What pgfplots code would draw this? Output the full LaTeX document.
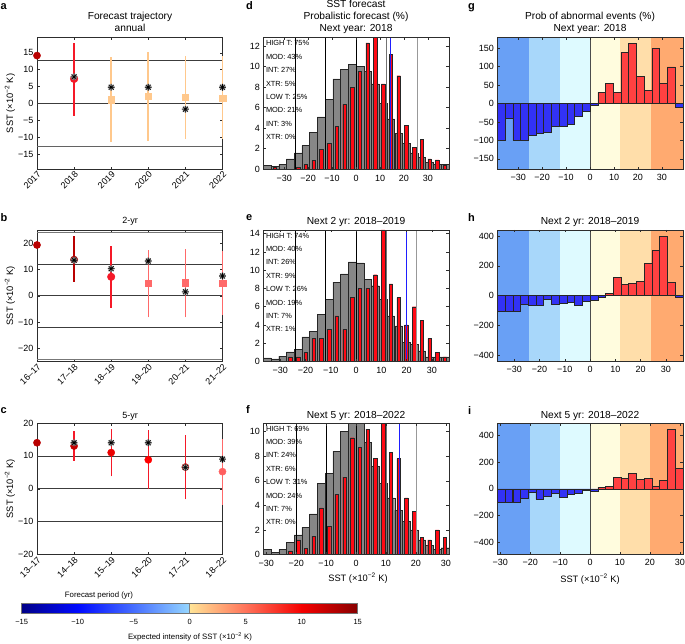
\documentclass[border=0pt]{standalone}
\usepackage{pgfplots}
\usepackage{pgfplotstable}
\pgfplotsset{compat=1.18}
\usepackage{fontspec}
\setmainfont{Liberation Sans}
\usetikzlibrary{plotmarks}

\definecolor{axgray}{RGB}{45,45,45}
\definecolor{refgray}{RGB}{60,60,60}
\definecolor{histgray}{RGB}{135,135,135}
\definecolor{hred}{RGB}{255,10,20}
\definecolor{pblue}{RGB}{50,50,245}
\definecolor{pred}{RGB}{255,65,65}
\definecolor{bandA}{RGB}{105,160,245}
\definecolor{bandB}{RGB}{168,215,250}
\definecolor{bandC}{RGB}{222,250,255}
\definecolor{bandD}{RGB}{255,252,222}
\definecolor{bandE}{RGB}{255,222,170}
\definecolor{bandF}{RGB}{255,170,112}
\definecolor{fcblue}{RGB}{30,30,255}
\definecolor{dkred}{RGB}{185,0,0}
\definecolor{mdred}{RGB}{245,25,40}
\definecolor{ltorange}{RGB}{255,200,140}
\definecolor{salmon}{RGB}{255,105,105}
\definecolor{cbA}{RGB}{0,0,135}
\definecolor{cbB}{RGB}{0,10,255}
\definecolor{cbC}{RGB}{70,110,255}
\definecolor{cbD}{RGB}{150,215,255}
\definecolor{cbE}{RGB}{255,228,150}
\definecolor{cbF}{RGB}{255,115,90}
\definecolor{cbG}{RGB}{245,0,0}
\definecolor{cbH}{RGB}{135,0,0}

% 8-arm asterisk like matlab '*'
\pgfdeclareplotmark{ast8}{%
  \pgfpathmoveto{\pgfqpoint{0pt}{\pgfplotmarksize}}%
  \pgfpathlineto{\pgfqpoint{0pt}{-\pgfplotmarksize}}%
  \pgfpathmoveto{\pgfqpoint{\pgfplotmarksize}{0pt}}%
  \pgfpathlineto{\pgfqpoint{-\pgfplotmarksize}{0pt}}%
  \pgfpathmoveto{\pgfqpoint{0.7071\pgfplotmarksize}{0.7071\pgfplotmarksize}}%
  \pgfpathlineto{\pgfqpoint{-0.7071\pgfplotmarksize}{-0.7071\pgfplotmarksize}}%
  \pgfpathmoveto{\pgfqpoint{-0.7071\pgfplotmarksize}{0.7071\pgfplotmarksize}}%
  \pgfpathlineto{\pgfqpoint{0.7071\pgfplotmarksize}{-0.7071\pgfplotmarksize}}%
  \pgfusepathqstroke}

\pgfplotsset{
  base/.style={scale only axis, width=185.5pt, height=131.5pt, anchor=south west,
    axis line style={axgray, line width=0.5pt}, tick style={axgray, line width=0.5pt},
    tick align=inside, major tick length=2.5pt,
    /pgf/number format/assume math mode=true,
    ticklabel style={font=\fontsize{9}{10}\selectfont}},
  traj/.style={base, xmin=0, xmax=5, xtick={0,...,5}, clip=false,
    xticklabel style={rotate=45, anchor=north east, inner sep=1pt}},
  hist/.style={base, axis on top, ymin=0, xtick={-30,-20,...,30},
    xticklabels={−30,−20,−10,0,10,20,30}, xticklabel style={yshift=-2pt}},
  prob/.style={base, axis on top, xtick={-30,-20,...,30},
    xticklabels={−30,−20,−10,0,10,20,30}, xticklabel style={yshift=-1.5pt}},
  gbar/.style={ybar, bar shift=0pt, fill=histgray, draw=black!85, line width=0.4pt},
  rbar/.style={ybar, bar shift=0pt, fill=hred, draw=black!85, line width=0.4pt},
  nbar/.style={ybar, bar shift=0pt, fill=pblue, draw=black!85, line width=0.5pt},
  pbar/.style={ybar, bar shift=0pt, fill=pred, draw=black!85, line width=0.5pt},
  asth/.style={only marks, mark=ast8, mark size=3.4pt, mark options={draw=black!40, line width=1.6pt}},
  ast/.style={only marks, mark=ast8, mark size=3.4pt, mark options={draw=black, line width=0.6pt}},
  eb/.style={line width=1.4pt},
}

% bin centre, climatology (g), forecast (r), prob. negative / positive
\pgfplotstableread{
x g r neg pos
-37.09 0.35 nan -100 nan
-33.86 0.30 0.18 -41 nan
-30.64 0.50 nan -100 nan
-27.41 1.00 nan -100 nan
-24.19 1.60 0.20 -87 nan
-20.96 2.30 0.45 -81 nan
-17.74 3.60 0.85 -77 nan
-14.51 5.10 1.90 -63 nan
-11.29 6.80 2.50 -63 nan
-8.06 8.80 4.20 -55 nan
-4.84 9.70 6.30 -35 nan
-1.61 10.20 8.00 -22 nan
1.61 10.00 9.50 -5 nan
4.84 9.50 12.30 nan 30
8.06 8.30 12.80 nan 54
11.29 6.40 8.30 nan 29
14.51 4.90 11.20 nan 139
17.74 3.50 9.10 nan 162
20.96 2.50 4.30 nan 73
24.19 1.60 2.10 nan 35
27.41 1.15 2.90 nan 150
30.64 0.65 1.00 nan 54
33.86 0.45 0.90 nan 99
37.09 0.45 0.40 -11 nan
}\tabD

\pgfplotstableread{
x g r neg pos
-35.17 0.40 nan -103 nan
-32.11 0.30 nan -103 nan
-29.06 0.60 nan -103 nan
-26.00 1.05 0.50 -54 nan
-22.94 1.30 0.50 -63 nan
-19.88 2.70 1.00 -63 nan
-16.82 3.30 2.50 -25 nan
-13.76 5.20 2.50 -54 nan
-10.70 6.80 3.50 -51 nan
-7.65 8.70 5.00 -42 nan
-4.59 9.60 3.50 -65 nan
-1.53 10.90 7.00 -38 nan
1.53 10.80 8.00 -29 nan
4.59 9.00 8.00 -13 nan
7.65 8.30 9.50 nan 16
10.70 6.80 14.40 nan 121
13.76 5.00 8.50 nan 78
16.82 3.90 7.00 nan 83
19.88 2.10 4.00 nan 94
22.94 1.90 6.00 nan 217
26.00 1.15 4.50 nan 302
29.06 0.50 2.50 nan 396
32.11 0.50 1.00 nan 89
35.17 0.50 0.50 -9 nan
}\tabE

\pgfplotstableread{
x g r neg pos
-29.71 0.40 nan -102 nan
-27.13 0.20 nan -102 nan
-24.54 0.40 nan -102 nan
-21.96 1.00 0.30 -72 nan
-19.38 1.60 1.20 -25 nan
-16.79 2.20 0.50 -77 nan
-14.21 3.30 1.50 -55 nan
-11.63 5.80 3.80 -35 nan
-9.04 6.60 2.30 -65 nan
-6.46 8.40 4.90 -42 nan
-3.88 10.00 6.30 -37 nan
-1.29 10.70 9.50 -12 nan
1.29 10.70 8.70 -20 nan
3.88 9.10 10.20 nan 12
6.46 7.20 7.80 nan 17
9.04 5.80 10.70 nan 84
11.63 4.60 8.30 nan 80
14.21 3.60 7.80 nan 114
16.79 2.70 4.60 nan 70
19.38 2.00 3.50 nan 77
21.96 1.20 1.40 nan 17
24.54 0.75 1.20 nan 60
27.13 0.40 2.00 nan 442
29.71 0.55 1.40 nan 152
}\tabF

\newcommand{\sstunit}{SST (×10\textsuperscript{−2} K)}

\begin{document}
\begin{tikzpicture}[x=1pt,y=1pt]
\useasboundingbox (0pt,0pt) rectangle (685pt,643pt);

%% ---------- a ----------
\begin{axis}[traj, at={(37pt,473.8pt)}, ymin=-19.5, ymax=19.5,
  ytick={-15,-10,...,15}, yticklabels={−15,−10,−5,0,5,10,15},
  xticklabels={2017,2018,2019,2020,2021,2022}]
\addplot[refgray, line width=0.7pt] coordinates {(0,12.7) (5,12.7)};
\addplot[refgray, line width=0.7pt] coordinates {(0,0) (5,0)};
\addplot[refgray!80, line width=0.7pt] coordinates {(0,-12.7) (5,-12.7)};
\addplot[eb, mdred, line width=1.3pt] coordinates {(1,-3.7) (1,18)};
\addplot[eb, ltorange, line width=1.7pt] coordinates {(2,-11.5) (2,13.8)};
\addplot[eb, ltorange, line width=1.7pt] coordinates {(3,-11) (3,15.2)};
\addplot[eb, ltorange, line width=1.7pt] coordinates {(4,-10.6) (4,14)};
\addplot[eb, ltorange, line width=1.7pt] coordinates {(5,-10.5) (5,14)};
\addplot[only marks, mark=*, mark size=3.6pt, dkred] coordinates {(0,14.2)};
\addplot[only marks, mark=*, mark size=3.9pt, mdred] coordinates {(1,7.3)};
\addplot[only marks, mark=square*, mark size=3.3pt, ltorange] coordinates {(2,1.2) (3,2.2) (4,1.8) (5,1.5)};
\addplot[asth] coordinates {(1,7.9) (2,4.8) (3,4.8) (4,-1.7) (5,4.8)};
\addplot[ast] coordinates {(1,7.9) (2,4.8) (3,4.8) (4,-1.7) (5,4.8)};
\end{axis}

%% ---------- b ----------
\begin{axis}[traj, at={(37pt,281.5pt)}, ymin=-25, ymax=25,
  ytick={-20,-10,...,20}, yticklabels={−20,−10,0,10,20},
  xticklabels={16–17,17–18,18–19,19–20,20–21,21–22}]
\addplot[refgray!70, line width=0.7pt] coordinates {(0,24) (5,24)};
\addplot[refgray, line width=0.7pt] coordinates {(0,12) (5,12)};
\addplot[refgray, line width=0.7pt] coordinates {(0,0) (5,0)};
\addplot[refgray, line width=0.7pt] coordinates {(0,-12) (5,-12)};
\addplot[refgray!70, line width=0.7pt] coordinates {(0,-24) (5,-24)};
\addplot[eb, dkred] coordinates {(1,5.3) (1,22.7)};
\addplot[eb, mdred] coordinates {(2,-4.6) (2,19)};
\addplot[eb, salmon] coordinates {(3,-8.2) (3,17.5)};
\addplot[eb, salmon] coordinates {(4,-8.2) (4,17.8)};
\addplot[eb, salmon] coordinates {(5,-7.5) (5,17)};
\addplot[only marks, mark=*, mark size=3.6pt, dkred] coordinates {(0,19.3)};
\addplot[only marks, mark=*, mark size=3.7pt, dkred!90!black] coordinates {(1,13.7)};
\addplot[only marks, mark=*, mark size=3.8pt, mdred] coordinates {(2,7.2)};
\addplot[only marks, mark=square*, mark size=3.3pt, salmon] coordinates {(3,4.8) (4,4.9) (5,4.8)};
\addplot[asth] coordinates {(1,13.5) (2,10.3) (3,13.2) (4,1.5) (5,7.5)};
\addplot[ast] coordinates {(1,13.5) (2,10.3) (3,13.2) (4,1.5) (5,7.5)};
\end{axis}

%% ---------- c ----------
\begin{axis}[traj, at={(37pt,88.5pt)}, ymin=-20, ymax=20,
  ytick={-20,-10,...,20}, yticklabels={−20,−10,0,10,20},
  xticklabels={13–17,14–18,15–19,16–20,17–21,18–22}]
\addplot[refgray, line width=0.7pt] coordinates {(0,10) (5,10)};
\addplot[refgray, line width=0.7pt] coordinates {(0,0) (5,0)};
\addplot[refgray, line width=0.7pt] coordinates {(0,-10) (5,-10)};
\addplot[eb, mdred, line width=1.2pt] coordinates {(1,8.5) (1,17.5)};
\addplot[eb, mdred, line width=1.2pt] coordinates {(2,3.8) (2,18.3)};
\addplot[eb, mdred, line width=1.2pt] coordinates {(3,0) (3,17.8)};
\addplot[eb, mdred, line width=1.2pt] coordinates {(4,-3.2) (4,16.5)};
\addplot[eb, salmon, line width=1.2pt] coordinates {(5,-4.8) (5,15.2)};
\addplot[only marks, mark=*, mark size=3.6pt, dkred] coordinates {(0,14)};
\addplot[only marks, mark=*, mark size=3.6pt, dkred!80!red] coordinates {(1,13)};
\addplot[only marks, mark=*, mark size=3.6pt, red!92!black] coordinates {(2,11)};
\addplot[only marks, mark=*, mark size=3.6pt, red] coordinates {(3,8.8)};
\addplot[only marks, mark=*, mark size=3.6pt, dkred!80!red] coordinates {(4,6.6)};
\addplot[only marks, mark=*, mark size=3.6pt, salmon!90!red] coordinates {(5,5.2)};
\addplot[asth] coordinates {(1,14) (2,14) (3,14) (4,6.5) (5,9)};
\addplot[ast] coordinates {(1,14) (2,14) (3,14) (4,6.5) (5,9)};
\end{axis}

%% ---------- d ----------
\begin{axis}[hist, at={(263.3pt,473.8pt)}, xmin=-38.7, xmax=38.7, ymax=12.8,
  ytick={0,2,...,12}]
\addplot[gbar, bar width=3.225] table[x=x,y=g]{\tabD};
\addplot[rbar, bar width=1.45] table[x=x,y=r]{\tabD};
\addplot[black, line width=0.6pt] coordinates {(-25.4,0) (-25.4,12.8)};
\addplot[black, line width=0.6pt] coordinates {(-12.7,0) (-12.7,12.8)};
\addplot[black, line width=0.6pt] coordinates {(0,0) (0,12.8)};
\addplot[black!55, line width=0.6pt] coordinates {(12.7,0) (12.7,12.8)};
\addplot[black!40, line width=0.6pt] coordinates {(25.4,0) (25.4,12.8)};
\addplot[fcblue, line width=1pt] coordinates {(14.5,0) (14.5,12.8)};
\end{axis}

%% ---------- e ----------
\begin{axis}[hist, at={(263.3pt,281.5pt)}, xmin=-36.7, xmax=36.7, ymax=14.4,
  ytick={0,2,...,14}]
\addplot[gbar, bar width=3.058] table[x=x,y=g]{\tabE};
\addplot[rbar, bar width=1.38] table[x=x,y=r]{\tabE};
\addplot[black, line width=0.6pt] coordinates {(-24,0) (-24,14.4)};
\addplot[black, line width=0.6pt] coordinates {(-12,0) (-12,14.4)};
\addplot[black, line width=0.6pt] coordinates {(0,0) (0,14.4)};
\addplot[black!55, line width=0.6pt] coordinates {(12,0) (12,14.4)};
\addplot[black!40, line width=0.6pt] coordinates {(24,0) (24,14.4)};
\addplot[fcblue, line width=1pt] coordinates {(19.8,0) (19.8,14.4)};
\end{axis}

%% ---------- f ----------
\begin{axis}[hist, at={(263.3pt,88.5pt)}, xmin=-31, xmax=31, ymax=10.7,
  ytick={0,2,...,10}]
\addplot[gbar, bar width=2.583] table[x=x,y=g]{\tabF};
\addplot[rbar, bar width=1.16] table[x=x,y=r]{\tabF};
\addplot[black, line width=0.6pt] coordinates {(-20,0) (-20,10.7)};
\addplot[black, line width=0.6pt] coordinates {(-10,0) (-10,10.7)};
\addplot[black, line width=0.6pt] coordinates {(0,0) (0,10.7)};
\addplot[black!55, line width=0.6pt] coordinates {(10,0) (10,10.7)};
\addplot[black!40, line width=0.6pt] coordinates {(20,0) (20,10.7)};
\addplot[fcblue, line width=1pt] coordinates {(14.4,0) (14.4,10.7)};
\end{axis}

%% ---------- g ----------
\begin{axis}[prob, at={(497.3pt,473.8pt)}, xmin=-38.7, xmax=38.7, ymin=-178, ymax=178,
  ytick={-150,-100,...,150}, yticklabels={−150,−100,−50,0,50,100,150}]
\fill[bandA] (axis cs:-38.7,-178) rectangle (axis cs:-25.4,178);
\fill[bandB] (axis cs:-25.4,-178) rectangle (axis cs:-12.7,178);
\fill[bandC] (axis cs:-12.7,-178) rectangle (axis cs:0,178);
\fill[bandD] (axis cs:0,-178) rectangle (axis cs:12.7,178);
\fill[bandE] (axis cs:12.7,-178) rectangle (axis cs:25.4,178);
\fill[bandF] (axis cs:25.4,-178) rectangle (axis cs:38.7,178);
\addplot[black!70, line width=0.6pt] coordinates {(0,-178) (0,178)};
\addplot[nbar, bar width=3.225] table[x=x,y=neg]{\tabD};
\addplot[pbar, bar width=3.225] table[x=x,y=pos]{\tabD};
\end{axis}

%% ---------- h ----------
\begin{axis}[prob, at={(497.3pt,281.5pt)}, xmin=-36.7, xmax=36.7, ymin=-440, ymax=440,
  ytick={-400,-200,...,400}, yticklabels={−400,−200,0,200,400}]
\fill[bandA] (axis cs:-36.7,-440) rectangle (axis cs:-24,440);
\fill[bandB] (axis cs:-24,-440) rectangle (axis cs:-12,440);
\fill[bandC] (axis cs:-12,-440) rectangle (axis cs:0,440);
\fill[bandD] (axis cs:0,-440) rectangle (axis cs:12,440);
\fill[bandE] (axis cs:12,-440) rectangle (axis cs:24,440);
\fill[bandF] (axis cs:24,-440) rectangle (axis cs:36.7,440);
\addplot[black!70, line width=0.6pt] coordinates {(0,-440) (0,440)};
\addplot[nbar, bar width=3.058] table[x=x,y=neg]{\tabE};
\addplot[pbar, bar width=3.058] table[x=x,y=pos]{\tabE};
\end{axis}

%% ---------- i ----------
\begin{axis}[prob, at={(497.3pt,88.5pt)}, xmin=-31, xmax=31, ymin=-490, ymax=490,
  ytick={-400,-200,...,400}, yticklabels={−400,−200,0,200,400}]
\fill[bandA] (axis cs:-31,-490) rectangle (axis cs:-20,490);
\fill[bandB] (axis cs:-20,-490) rectangle (axis cs:-10,490);
\fill[bandC] (axis cs:-10,-490) rectangle (axis cs:0,490);
\fill[bandD] (axis cs:0,-490) rectangle (axis cs:10,490);
\fill[bandE] (axis cs:10,-490) rectangle (axis cs:20,490);
\fill[bandF] (axis cs:20,-490) rectangle (axis cs:31,490);
\addplot[black!70, line width=0.6pt] coordinates {(0,-490) (0,490)};
\addplot[nbar, bar width=2.583] table[x=x,y=neg]{\tabF};
\addplot[pbar, bar width=2.583] table[x=x,y=pos]{\tabF};
\end{axis}

%% ---------- colour bar ----------
\begin{axis}[scale only axis, width=336pt, height=9.7pt, anchor=south west, at={(21.7pt,30pt)},
  xmin=-15, xmax=15, ymin=0, ymax=1, ytick=\empty, xtick={-15,-10,...,15},
  xticklabels={−15,−10,−5,0,5,10,15}, major tick length=0pt, axis on top,
  axis line style={black!55, line width=0.6pt},
  xticklabel style={yshift=-2.5pt},
  ticklabel style={font=\fontsize{7.5}{9}\selectfont}]
\shade[left color=cbA, right color=cbB] (axis cs:-15,0) rectangle (axis cs:-10,1);
\shade[left color=cbB, right color=cbC] (axis cs:-10,0) rectangle (axis cs:-5,1);
\shade[left color=cbC, right color=cbD] (axis cs:-5,0) rectangle (axis cs:0,1);
\shade[left color=cbE, right color=cbF] (axis cs:0,0) rectangle (axis cs:5,1);
\shade[left color=cbF, right color=cbG] (axis cs:5,0) rectangle (axis cs:10,1);
\shade[left color=cbG, right color=cbH] (axis cs:10,0) rectangle (axis cs:15,1);
\addplot[black!50, line width=1pt] coordinates {(0,0) (0,1)};
\end{axis}

%% ---------- texts ----------
\begin{scope}[every node/.style={inner sep=0pt}]
\foreach \xx/\yy/\ll in {0.5/633/a, 246/633/d, 468/633/g, 0.5/421.3/b, 246/422/e, 468/421.3/h, 0.5/229.7/c, 246/229.7/f, 468/228.7/i}
  \node[anchor=base west, font=\fontsize{11}{12}\selectfont\bfseries] at (\xx pt,\yy pt) {\ll};
\begin{scope}[every node/.append style={anchor=base, font=\fontsize{10.2}{11}\selectfont}]
\node at (130pt,623.7pt) {Forecast trajectory};
\node at (130pt,611.3pt) {annual};
\node at (356pt,635.7pt) {SST forecast};
\node at (356pt,623.7pt) {Probalistic forecast (\%)};
\node at (356pt,611.3pt) {Next year: 2018};
\node at (590pt,623.7pt) {Prob of abnormal events (\%)};
\node at (590pt,611.3pt) {Next year: 2018};
\node[font=\fontsize{9}{10}\selectfont] at (130pt,419.7pt) {2-yr};
\node at (356pt,418.7pt) {Next 2 yr: 2018–2019};
\node at (590pt,418.7pt) {Next 2 yr: 2018–2019};
\node[font=\fontsize{9}{10}\selectfont] at (130pt,224.7pt) {5-yr};
\node at (356pt,224.7pt) {Next 5 yr: 2018–2022};
\node at (590pt,225pt) {Next 5 yr: 2018–2022};
\end{scope}
\foreach \yy in {539.5,347.3,154.3}
  \node[rotate=90, anchor=center, font=\fontsize{9.3}{10}\selectfont] at (10pt,\yy pt) {\sstunit};
\node[anchor=base, font=\fontsize{9.3}{10}\selectfont] at (358pt,61.3pt) {\sstunit};
\node[anchor=base, font=\fontsize{9.3}{10}\selectfont] at (590pt,60.7pt) {\sstunit};
\node[anchor=base, font=\fontsize{7.8}{9}\selectfont] at (99pt,45.7pt) {Forecast period (yr)};
\node[anchor=base, font=\fontsize{7.8}{9}\selectfont] at (190pt,3.7pt) {Expected intensity of SST (×10\textsuperscript{−2} K)};
% category shares inside d, e, f
\foreach \px/\py/\txt in {%
  263.3/473.8/{HIGH T: 75\%,MOD: 43\%,INT: 27\%,XTR: 5\%,LOW T: 25\%,MOD: 21\%,INT: 3\%,XTR: 0\%},
  263.3/281.5/{HIGH T: 74\%,MOD: 40\%,INT: 26\%,XTR: 9\%,LOW T: 26\%,MOD: 19\%,INT: 7\%,XTR: 1\%},
  263.3/88.5/{HIGH T: 69\%,MOD: 39\%,INT: 24\%,XTR: 6\%,LOW T: 31\%,MOD: 24\%,INT: 7\%,XTR: 0\%}}{
  \foreach \t [count=\n] in \txt
    \node[anchor=west, font=\fontsize{7.4}{8}\selectfont] at (\px pt+2.5pt, \py pt+131.5pt-5.6pt-13.4pt*\n+13.4pt) {\t};
}
\end{scope}
\end{tikzpicture}
\end{document}
